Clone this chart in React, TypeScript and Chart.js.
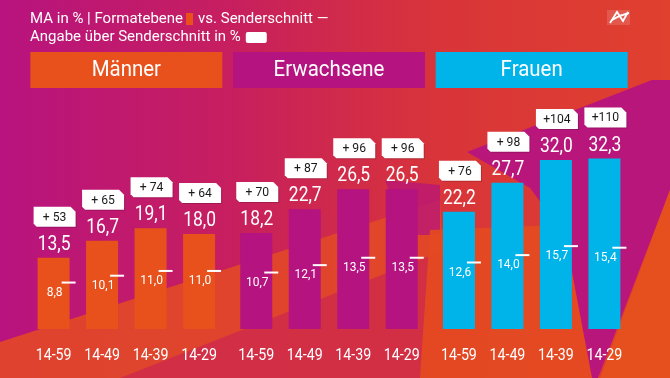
import React, { useEffect, useRef } from "react";
import { Chart, registerables } from "chart.js";

Chart.register(...registerables);

const segments = ["Männer", "Erwachsene", "Frauen"];
const segmentColors = ["#e8511b", "#b5137f", "#00b4ea"];
const ageGroups = ["14-59", "14-49", "14-39", "14-29"];
const maennerValues = [13.5, 16.7, 19.1, 18.0];
const erwachseneValues = [18.2, 22.7, 26.5, 26.5];
const frauenValues = [22.2, 27.7, 32.0, 32.3];
const maennerAvg = [8.8, 10.1, 11.0, 11.0];
const erwachseneAvg = [10.7, 12.1, 13.5, 13.5];
const frauenAvg = [12.6, 14.0, 15.7, 15.4];
const maennerIndex = [53, 65, 74, 64];
const erwachseneIndex = [70, 87, 96, 96];
const frauenIndex = [76, 98, 104, 110];
const titleLine1a = "MA in % | Formatebene";
const titleLine1b = "vs. Senderschnitt —";
const titleLine2 = "Angabe über Senderschnitt in %";

const valuesBySegment = [maennerValues, erwachseneValues, frauenValues];
const avgBySegment = [maennerAvg, erwachseneAvg, frauenAvg];
const indexBySegment = [maennerIndex, erwachseneIndex, frauenIndex];

const FONT = "Roboto, 'Noto Sans', sans-serif";

function fmt(v: number) {
  return v.toFixed(1).replace(".", ",");
}

function drawText(
  ctx: CanvasRenderingContext2D,
  s: string,
  x: number,
  y: number,
  font: string,
  color: string,
  align: CanvasTextAlign = "center",
  sx = 1
) {
  ctx.save();
  ctx.font = font;
  ctx.fillStyle = color;
  ctx.textAlign = align;
  ctx.textBaseline = "middle";
  ctx.translate(x, y);
  ctx.scale(sx, 1);
  ctx.fillText(s, 0, 0);
  ctx.restore();
}

function poly(ctx: CanvasRenderingContext2D, pts: number[][], color: string) {
  ctx.beginPath();
  ctx.moveTo(pts[0][0], pts[0][1]);
  for (let i = 1; i < pts.length; i++) ctx.lineTo(pts[i][0], pts[i][1]);
  ctx.closePath();
  ctx.fillStyle = color;
  ctx.fill();
}

const backgroundPlugin = {
  id: "bgDecor",
  beforeDraw(chart: any) {
    const ctx: CanvasRenderingContext2D = chart.ctx;
    const w = chart.width;
    const h = chart.height;
    ctx.save();
    const g = ctx.createLinearGradient(0, 0, w, 0);
    g.addColorStop(0, "#b8137f");
    g.addColorStop(0.35, "#c71f5e");
    g.addColorStop(0.65, "#d8343a");
    g.addColorStop(1, "#e0402e");
    ctx.fillStyle = g;
    ctx.fillRect(0, 0, w, h);
    // decorative facets
    poly(ctx, [[0, h], [0, 342], [440, 200], [450, h]], "rgba(226,72,40,0.92)");
    poly(ctx, [[120, h], [445, 250], [460, h]], "rgba(208,44,72,0.9)");
    poly(ctx, [[385, 180], [440, 185], [440, 235], [405, 235]], "rgba(184,22,122,0.75)");
    poly(ctx, [[430, 230], [560, 225], [600, h], [420, h]], "rgba(228,74,34,0.95)");
    poly(ctx, [[467, 152], [652, 80], [w, 80], [w, 190], [598, h], [592, h], [565, 235], [530, 188]], "#b8167a");
    poly(ctx, [[w, 190], [w, h], [600, h]], "#e5501e");
    ctx.restore();
  },
};

const overlayPlugin = {
  id: "overlay",
  afterDatasetsDraw(chart: any) {
    const ctx: CanvasRenderingContext2D = chart.ctx;
    const yScale = chart.scales.y;
    const area = chart.chartArea;
    chart.data.datasets.forEach((ds: any, di: number) => {
      const meta = chart.getDatasetMeta(di);
      meta.data.forEach((bar: any, si: number) => {
        const x = bar.x;
        const top = bar.y;
        const right = x + bar.width / 2;
        const value = valuesBySegment[si][di];
        const avg = avgBySegment[si][di];
        const idx = indexBySegment[si][di];
        // value label above bar
        drawText(ctx, fmt(value), x + 0.5, top - 13, `21px ${FONT}`, "#ffffff", "center", 0.83);
        // badge
        const bw = 42, bh = 20;
        const bx = x + 1 - bw / 2;
        const by = top - 31 - bh;
        poly(ctx, [[bx + 1, by + 1], [bx + bw - 4, by + 1], [bx + bw + 1, by + 6], [bx + bw + 1, by + bh + 1], [bx + 4, by + bh + 1], [bx + 1, by + bh - 2]], "rgba(0,0,0,0.18)");
        poly(ctx, [[bx, by], [bx + bw - 5, by], [bx + bw, by + 5], [bx + bw, by + bh], [bx + 3, by + bh], [bx, by + bh - 3]], "#ffffff");
        const label = idx >= 100 ? `+${idx}` : `+ ${idx}`;
        drawText(ctx, label, x + 1, by + bh / 2 + 0.5, `13.5px ${FONT}`, "#1a1a1a", "center", 0.9);
        // average marker
        const ya = yScale.getPixelForValue(avg);
        ctx.save();
        ctx.strokeStyle = "#ffffff";
        ctx.lineWidth = 2;
        ctx.beginPath();
        ctx.moveTo(right - 8, ya);
        ctx.lineTo(right + 6, ya);
        ctx.stroke();
        ctx.restore();
        drawText(ctx, fmt(avg), x + 1, ya + 10, `12px ${FONT}`, "#ffffff", "center", 1);
        // age label
        drawText(ctx, ageGroups[di], x, area.bottom + 27, `16.5px ${FONT}`, "#ffffff", "center", 0.86);
      });
    });
  },
  afterDraw(chart: any) {
    const ctx: CanvasRenderingContext2D = chart.ctx;
    const xScale = chart.scales.x;
    // segment headers
    segments.forEach((s, i) => {
      const cx = xScale.getPixelForValue(i);
      ctx.save();
      ctx.fillStyle = segmentColors[i];
      ctx.fillRect(cx - 96, 52, 192, 36);
      ctx.restore();
      drawText(ctx, s, cx, 70.5, `22px ${FONT}`, "#ffffff", "center", 0.93);
    });
    // title
    ctx.save();
    ctx.font = `15px ${FONT}`;
    const w1 = ctx.measureText(titleLine1a).width;
    const w2 = ctx.measureText(titleLine2).width;
    ctx.restore();
    drawText(ctx, titleLine1a, 30, 19, `15px ${FONT}`, "#ffffff", "left");
    const rx = 30 + w1 + 3;
    ctx.save();
    ctx.fillStyle = segmentColors[0];
    ctx.fillRect(rx, 13, 7, 12);
    ctx.restore();
    drawText(ctx, titleLine1b, rx + 12, 19, `15px ${FONT}`, "#ffffff", "left");
    drawText(ctx, titleLine2, 30, 37, `15px ${FONT}`, "#ffffff", "left");
    ctx.save();
    ctx.fillStyle = "#ffffff";
    ctx.beginPath();
    const wx = 30 + w2 + 5;
    (ctx as any).roundRect ? (ctx as any).roundRect(wx, 32, 21, 11, 2) : ctx.rect(wx, 32, 21, 11);
    ctx.fill();
    ctx.restore();
    // logo
    ctx.save();
    ctx.fillStyle = "rgba(255,255,255,0.14)";
    ctx.fillRect(607, 10, 23, 15);
    ctx.strokeStyle = "#ffffff";
    ctx.lineWidth = 1.8;
    ctx.beginPath();
    ctx.moveTo(610, 23);
    ctx.lineTo(617, 12);
    ctx.lineTo(623, 21);
    ctx.lineTo(628, 12);
    ctx.stroke();
    ctx.beginPath();
    ctx.moveTo(612, 20);
    ctx.quadraticCurveTo(620, 15, 629, 13);
    ctx.stroke();
    ctx.restore();
  },
};

export default function App() {
  const canvasRef = useRef<HTMLCanvasElement | null>(null);

  useEffect(() => {
    const canvas = canvasRef.current;
    if (!canvas) return;
    const datasets = ageGroups.map((age, di) => ({
      label: age,
      data: valuesBySegment.map((vals) => vals[di]),
      backgroundColor: segmentColors,
      borderWidth: 0,
      categoryPercentage: 0.957,
      barPercentage: 0.66,
    }));
    const chart = new Chart(canvas, {
      type: "bar",
      data: { labels: segments, datasets },
      options: {
        responsive: false,
        maintainAspectRatio: false,
        animation: false,
        devicePixelRatio: 1,
        layout: { padding: { left: 25, right: 37, top: 139, bottom: 49 } },
        plugins: {
          legend: { display: false },
          tooltip: { enabled: false },
          title: { display: false },
        },
        scales: {
          x: { display: false, grid: { display: false } },
          y: { display: false, min: 0, max: 36 },
        },
      },
      plugins: [backgroundPlugin, overlayPlugin],
    } as any);
    return () => chart.destroy();
  }, []);

  return (
    <div style={{ position: "absolute", left: 0, top: 0, width: 670, height: 378 }}>
      <canvas ref={canvasRef} width={670} height={378} style={{ display: "block", width: 670, height: 378 }} />
    </div>
  );
}
